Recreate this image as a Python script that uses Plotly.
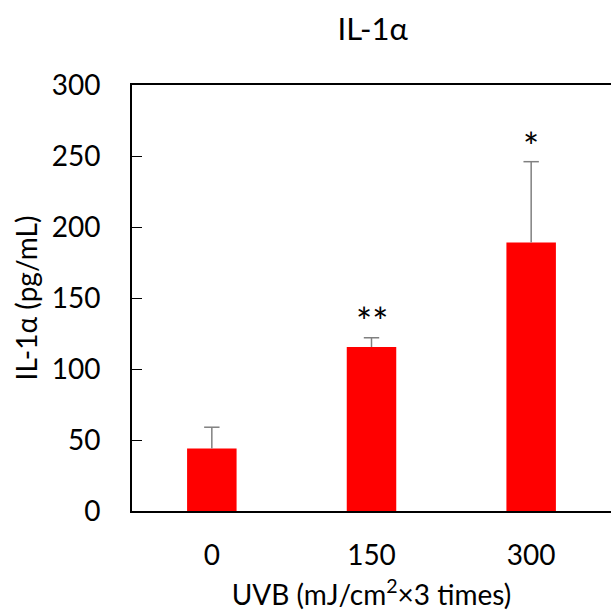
import plotly.graph_objects as go

categories = ["0", "150", "300"]
values = [44, 115.5, 189]
errors = [15, 6.5, 57]
stars = ["", "**", "*"]
star_y = [0, 134, 257]
y_ticks = [0, 50, 100, 150, 200, 250, 300]

FONT = "Lato"
xpos = list(range(len(categories)))
tops = [v + e for v, e in zip(values, errors)]

fig = go.Figure()
fig.add_trace(go.Bar(
    x=xpos, y=values,
    marker=dict(color="#ff0000", line=dict(width=0)),
    width=0.31,
    error_y=dict(type="data", array=errors, symmetric=False, arrayminus=[0]*3,
                 color="#808080", thickness=1.5, width=0),
))
fig.add_trace(go.Scatter(
    x=xpos, y=tops, mode="markers",
    marker=dict(symbol="line-ew", size=11, line=dict(color="#808080", width=1.5)),
    hoverinfo="skip",
))
for xi, s, yy in zip(xpos, stars, star_y):
    if s:
        fig.add_annotation(x=xi, y=yy, text=s, showarrow=False,
                           font=dict(size=38, color="black", family=FONT),
                           yanchor="middle")

fig.update_layout(
    width=611, height=614,
    margin=dict(l=132, r=0, t=85, b=103),
    plot_bgcolor="white", paper_bgcolor="white",
    showlegend=False,
    font=dict(family=FONT, size=28, color="black"),
    title=dict(text="IL-1α", x=0.61, xanchor="center", y=0.953, yanchor="middle",
               font=dict(size=31, family=FONT, color="black")),
    xaxis=dict(range=[-0.5, 2.5], tickvals=xpos, ticktext=categories,
               showline=True, linecolor="black", linewidth=2, mirror=True,
               ticks="", tickfont=dict(size=28, family=FONT), automargin=False,
               ticklabelstandoff=18,
               title=dict(text="UVB (mJ/cm<sup>2</sup>×3 times)", font=dict(size=28, family=FONT), standoff=16),
               showgrid=False, zeroline=False),
    yaxis=dict(range=[0, 300], tickvals=y_ticks, showline=True, linecolor="black", linewidth=2,
               ticks="inside", ticklen=10, tickcolor="black", tickwidth=1, automargin=False,
               showgrid=False, zeroline=False, tickfont=dict(size=28, family=FONT),
               ticklabelstandoff=24,
               title=dict(text="IL-1α (pg/mL)", font=dict(size=28, family=FONT), standoff=6)),
)
fig.write_html("out.html", config={"displayModeBar": False},
               post_script="document.body.style.margin='0';document.body.style.overflow='hidden';")
